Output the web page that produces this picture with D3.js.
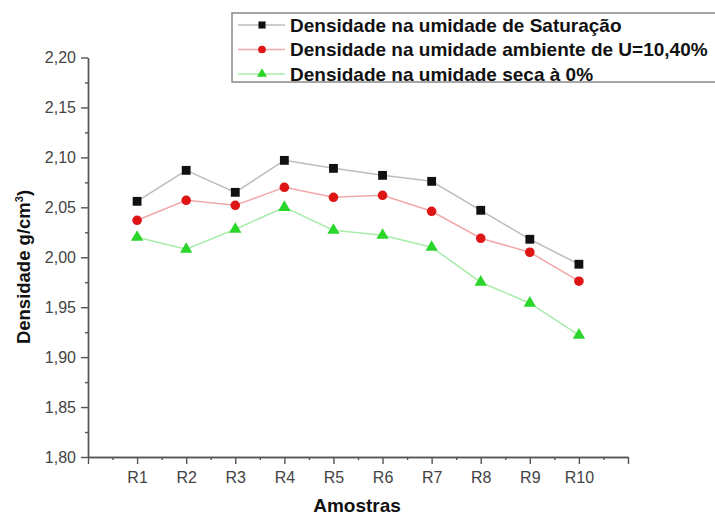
<!DOCTYPE html>
<html>
<head>
<meta charset="utf-8">
<script src="https://cdn.jsdelivr.net/npm/d3@7"></script>
<style>
  body { margin: 0; background: #fff; }
  svg { display: block; font-family: "Liberation Sans", Arial, sans-serif; }
  .axis path, .axis line { stroke: #555; stroke-width: 1.4; }
  .axis text { fill: #444; font-size: 16px; }
</style>
</head>
<body>
<svg id="chart" width="715" height="515"></svg>
<script>
// data
const amostras = ["R1", "R2", "R3", "R4", "R5", "R6", "R7", "R8", "R9", "R10"];
const saturacao = [2.056, 2.087, 2.065, 2.097, 2.089, 2.082, 2.076, 2.047, 2.018, 1.993];
const ambiente = [2.037, 2.057, 2.052, 2.070, 2.060, 2.062, 2.046, 2.019, 2.005, 1.976];
const seca = [2.020, 2.008, 2.028, 2.050, 2.027, 2.022, 2.010, 1.975, 1.954, 1.922];
const yTicks = [1.80, 1.85, 1.90, 1.95, 2.00, 2.05, 2.10, 2.15, 2.20];

const series = [
  { label: "Densidade na umidade de Saturação", values: saturacao, line: "#bdbdbd", fill: "#111", shape: d3.symbolSquare, size: 78 },
  { label: "Densidade na umidade ambiente de U=10,40%", values: ambiente, line: "#f2a8a8", fill: "#dd1515", shape: d3.symbolCircle, size: 72 },
  { label: "Densidade na umidade seca à 0%", values: seca, line: "#a8eca8", fill: "#2bd62b", shape: d3.symbolTriangle, size: 66 },
];

const svg = d3.select("#chart");
const locale = d3.formatLocale({ decimal: ",", thousands: ".", grouping: [3], currency: ["", ""] });
const fmt = locale.format(".2f");

// scales: x goes one step past R10, like the original plot
const x = d3.scaleLinear().domain([0, 11]).range([88, 628]);
const y = d3.scaleLinear().domain([1.8, 2.2]).range([457, 57.5]);

// x axis - major ticks, labels only for R1..R10
const xMajor = d3.range(0, 12);
const xMinor = d3.range(0.5, 11, 1);
svg.append("g")
  .attr("class", "axis")
  .attr("transform", "translate(0," + y(1.8) + ")")
  .call(d3.axisBottom(x).tickValues(xMinor).tickSize(3).tickFormat("").tickSizeOuter(0));
svg.append("g")
  .attr("class", "axis")
  .attr("transform", "translate(0," + y(1.8) + ")")
  .call(d3.axisBottom(x).tickValues(xMajor).tickSize(7).tickPadding(8).tickSizeOuter(0)
    .tickFormat(function (d) { return d >= 1 && d <= 10 ? amostras[d - 1] : ""; }));

// y axis
const yMinor = yTicks.slice(0, -1).map(function (d) { return d + 0.025; });
svg.append("g")
  .attr("class", "axis")
  .attr("transform", "translate(" + x(0) + ",0)")
  .call(d3.axisLeft(y).tickValues(yMinor).tickSize(3).tickFormat("").tickSizeOuter(0));
svg.append("g")
  .attr("class", "axis")
  .attr("transform", "translate(" + x(0) + ",0)")
  .call(d3.axisLeft(y).tickValues(yTicks).tickSize(7).tickPadding(5).tickFormat(fmt).tickSizeOuter(0));

// lines and markers
const line = d3.line()
  .x(function (d, i) { return x(i + 1); })
  .y(function (d) { return y(d); });

series.forEach(function (s) {
  svg.append("path")
    .datum(s.values)
    .attr("fill", "none")
    .attr("stroke", s.line)
    .attr("stroke-width", 1.5)
    .attr("d", line);
});
series.forEach(function (s) {
  svg.append("g")
    .selectAll(null)
    .data(s.values)
    .enter()
    .append("path")
    .attr("d", d3.symbol().type(s.shape).size(s.size))
    .attr("transform", function (d, i) { return "translate(" + x(i + 1) + "," + y(d) + ")"; })
    .attr("fill", s.fill);
});

// axis titles
svg.append("text")
  .attr("x", 357).attr("y", 512)
  .attr("text-anchor", "middle")
  .style("font-weight", "bold").style("font-size", "19px").style("fill", "#111")
  .text("Amostras");

const yt = svg.append("text")
  .attr("transform", "translate(30,267) rotate(-90)")
  .attr("text-anchor", "middle")
  .style("font-weight", "bold").style("font-size", "18.5px").style("fill", "#111");
yt.append("tspan").text("Densidade g/cm");
yt.append("tspan").attr("dy", -7).style("font-size", "11px").text("3");
yt.append("tspan").attr("dy", 7).text(")");

// legend (box runs off the right edge, as in the original)
const leg = svg.append("g").attr("class", "legend");
leg.append("rect")
  .attr("x", 232).attr("y", 13).attr("width", 500).attr("height", 69)
  .attr("fill", "#fff").attr("stroke", "#888").attr("stroke-width", 1.5);

const rows = leg.selectAll(null)
  .data(series)
  .enter()
  .append("g")
  .attr("transform", function (d, i) { return "translate(0," + (25 + i * 24.5) + ")"; });

rows.append("line")
  .attr("x1", 238).attr("x2", 285)
  .attr("stroke", function (d) { return d.line; })
  .attr("stroke-width", 1.5);
rows.append("path")
  .attr("d", function (d) { return d3.symbol().type(d.shape).size(d.size * 0.65)(); })
  .attr("transform", "translate(262,0)")
  .attr("fill", function (d) { return d.fill; });
rows.append("text")
  .attr("x", 290).attr("y", 6.5)
  .style("font-weight", "bold").style("font-size", "19px").style("fill", "#111")
  .text(function (d) { return d.label; });
</script>
</body>
</html>
